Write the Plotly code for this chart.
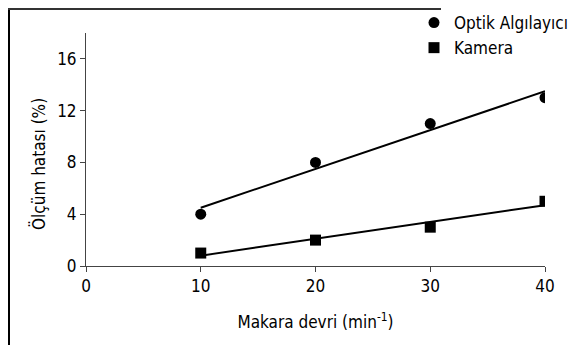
import numpy as np
import plotly.graph_objects as go

speeds = [10, 20, 30, 40]
optik = [4, 8, 11, 13]
kamera = [1, 2, 3, 5]
x_ticks = [0, 10, 20, 30, 40]
y_ticks = [0, 4, 8, 12, 16]

FONT = "DejaVu Sans Condensed, DejaVu Sans, sans-serif"

# page body has an 8px margin; work in viewport coordinates and shift
OFF = 8
W, H = 577 - OFF, 345 - OFF
L, R, T, B = 86 - OFF, 32, 33 - OFF, 79
pw, ph = W - L - R, H - T - B

def px(x):
    return (x - OFF - L) / pw

def py(y):
    return (H - B - (y - OFF)) / ph

fig = go.Figure()

def trend(xs, ys):
    k, b = np.polyfit(xs, ys, 1)
    xx = np.array([min(xs), max(xs)], dtype=float)
    return xx, k * xx + b

for name, ys, sym in [("Optik Algılayıcı", optik, "circle"), ("Kamera", kamera, "square")]:
    xx, yy = trend(speeds, ys)
    fig.add_trace(go.Scatter(x=xx, y=yy, mode="lines", line=dict(color="black", width=2),
                             showlegend=False, hoverinfo="skip"))
    fig.add_trace(go.Scatter(x=speeds, y=ys, mode="markers", name=name,
                             marker=dict(symbol=sym, size=11, color="black")))

axis_common = dict(showgrid=False, zeroline=False, showline=True, linecolor="#444", linewidth=1,
                   ticks="outside", ticklen=5, tickcolor="#444",
                   tickfont=dict(family=FONT, size=17, color="black"))

fig.update_layout(
    width=W, height=H,
    margin=dict(l=L, r=R, t=T, b=B, autoexpand=False),
    paper_bgcolor="white", plot_bgcolor="white",
    font=dict(family=FONT, size=16, color="black"),
    xaxis=dict(range=[0, 40], tickvals=x_ticks, ticktext=[str(v) for v in x_ticks],
               title=dict(text="Makara devri (min<sup>-1</sup>)", font=dict(family=FONT, size=17), standoff=20),
               **axis_common),
    yaxis=dict(range=[0, 18], tickvals=y_ticks, ticktext=[str(v) for v in y_ticks],
               **axis_common),
    annotations=[dict(text="Ölçüm hatası (%)", textangle=-90, xref="paper", yref="paper",
                      x=px(38), y=py(164), xanchor="center", yanchor="middle", showarrow=False,
                      font=dict(family=FONT, size=17, color="black"))],
    legend=dict(x=px(414), y=py(5), xanchor="left", yanchor="top", bgcolor="rgba(0,0,0,0)",
                font=dict(family=FONT, size=17), tracegroupgap=0, itemwidth=30),
    showlegend=True,
    shapes=[
        dict(type="line", xref="paper", yref="paper", x0=px(9), x1=px(9), y0=py(9), y1=py(H + 40),
             line=dict(color="black", width=2)),
        dict(type="line", xref="paper", yref="paper", x0=px(8), x1=px(441), y0=py(9), y1=py(9),
             line=dict(color="#333", width=2)),
    ],
)

fig.write_html("out.html")
